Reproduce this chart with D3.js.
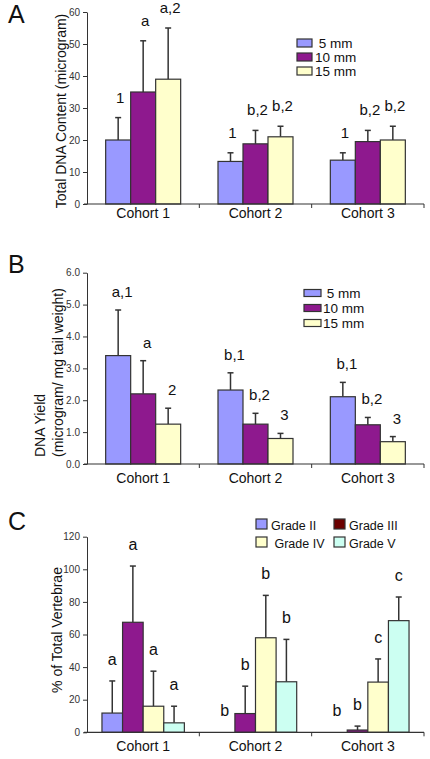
<!DOCTYPE html>
<html><head><meta charset="utf-8">
<script src="https://cdn.jsdelivr.net/npm/d3@7"></script>
<style>
html,body{margin:0;padding:0;background:#fff;}
svg{display:block;font-family:Arial,"Liberation Sans",sans-serif;}
text{white-space:pre;}
</style></head>
<body>
<svg id="chart" width="430" height="759"></svg>
<script>
// ---- data ----
const cohorts = ["Cohort 1", "Cohort 2", "Cohort 3"];
const sizeSeries = ["5 mm", "10 mm", "15 mm"];
const sizeLegend = [" 5 mm", "10 mm", "15 mm"];
const gradeSeries = ["Grade II", "Grade III", "Grade IV", "Grade V"];
const gradeLegend = ["Grade II", "Grade III", " Grade IV", "Grade V"];

// Panel A: Total DNA content (microgram), per cohort, series 5/10/15 mm
const dnaContent = [[20, 35, 39], [13.3, 18.8, 21], [13.7, 19.5, 20]];
const dnaContentErr = [[27, 51, 55], [16, 23, 24.3], [16, 23, 24.3]];
const dnaContentLabels = [["1", "a", "a,2"], ["1", "b,2", "b,2"], ["1", "b,2", "b,2"]];
const ticksA = [0, 10, 20, 30, 40, 50, 60];

// Panel B: DNA yield (microgram / mg tail weight)
const dnaYield = [[3.4, 2.2, 1.25], [2.32, 1.25, 0.8], [2.11, 1.23, 0.7]];
const dnaYieldErr = [[4.83, 3.24, 1.75], [2.86, 1.59, 0.96], [2.56, 1.46, 0.86]];
const dnaYieldLabels = [["a,1", "a", "2"], ["b,1", "b,2", "3"], ["b,1", "b,2", "3"]];
const ticksB = [0, 1, 2, 3, 4, 5, 6];

// Panel C: % of total vertebrae per grade
const vertebrae = [[11.8, 67.5, 16, 5.8], [0, 11.5, 58, 31], [0, 1.4, 30.8, 68.5]];
const vertebraeErr = [[31.5, 102, 37.5, 16], [0, 28.3, 84, 57], [0, 3.8, 45, 83]];
const vertebraeLabels = [["a", "a", "a", "a"], ["b", "b", "b", "b"], ["b", "b", "c", "c"]];
const ticksC = [0, 20, 40, 60, 80, 100, 120];

// ---- styles ----
const sizeColors = ["#9999ff", "#8e198e", "#ffffcc"];
const gradeColors = ["#9999ff", "#8e198e", "#ffffcc", "#ccfff2"];
const gradeLegendColors = ["#9999ff", "#6b0000", "#ffffcc", "#ccfff2"];
const ink = "#333";

const svg = d3.select("#chart");
const x = d3.scaleBand().domain(cohorts).range([87, 424]);

function panel(opt) {
  const g = svg.append("g");
  const y = d3.scaleLinear().domain(opt.domain).range(opt.range);
  const gw = opt.barW * opt.series.length;
  const x1 = d3.scaleBand().domain(opt.series)
    .range([(x.bandwidth() - gw) / 2, (x.bandwidth() + gw) / 2]);

  // y axis
  const ya = g.append("g").attr("transform", "translate(87,0)")
    .call(d3.axisLeft(y).tickValues(opt.ticks).tickSize(4).tickPadding(3).tickSizeOuter(0));
  ya.select(".domain").attr("stroke", ink);
  ya.selectAll(".tick line").attr("stroke", ink);
  ya.selectAll(".tick text").attr("font-size", 10).attr("fill", ink).attr("font-family", "Arial, 'Liberation Sans', sans-serif");

  // bars
  opt.values.forEach((row, ci) => {
    const gx = x(cohorts[ci]);
    row.forEach((v, si) => {
      const s = opt.series[si];
      const bx = gx + x1(s);
      const e = opt.errs[ci][si];
      if (e > v) {
        g.append("line").attr("x1", bx + opt.barW / 2).attr("x2", bx + opt.barW / 2)
          .attr("y1", y(v)).attr("y2", y(e)).attr("stroke", ink).attr("stroke-width", 1.5);
        g.append("line").attr("x1", bx + opt.barW / 2 - 3).attr("x2", bx + opt.barW / 2 + 3)
          .attr("y1", y(e)).attr("y2", y(e)).attr("stroke", ink).attr("stroke-width", 1.5);
      }
      if (v > 0) {
        g.append("rect").attr("x", bx).attr("y", y(v)).attr("width", opt.barW)
          .attr("height", y(0) - y(v)).attr("fill", opt.colors[si])
          .attr("stroke", ink).attr("stroke-width", 1.2);
      }
      g.append("text").attr("x", bx + opt.barW / 2 + opt.labelDx)
        .attr("y", y(Math.max(e, v)) - opt.labelGap)
        .attr("text-anchor", "middle").attr("font-size", opt.labelSize).attr("fill", "#111")
        .text(opt.labels[ci][si]);
    });
  });

  // x axis
  const y0 = y(0);
  g.append("line").attr("x1", 84).attr("x2", 424).attr("y1", y0).attr("y2", y0).attr("stroke", ink).attr("stroke-width", 1.2);
  cohorts.forEach(c => {
    const xe = x(c) + x.bandwidth();
    g.append("line").attr("x1", xe).attr("x2", xe).attr("y1", y0).attr("y2", y0 + 4).attr("stroke", ink);
    g.append("text").attr("x", x(c) + x.bandwidth() / 2).attr("y", y0 + opt.catDy)
      .attr("text-anchor", "middle").attr("font-size", 14).attr("fill", "#111").text(c);
  });

  // panel letter
  g.append("text").attr("x", 8).attr("y", opt.letterY).attr("font-size", 25).attr("fill", "#111").text(opt.letter);
  return { g, y };
}

// Panel A
const A = panel({
  domain: [0, 60], range: [204, 12], ticks: ticksA, series: sizeSeries, colors: sizeColors,
  values: dnaContent, errs: dnaContentErr, labels: dnaContentLabels, barW: 25,
  labelGap: 15, labelDx: 2, labelSize: 15, catDy: 14, letter: "A", letterY: 23
});
A.g.append("text").attr("transform", "translate(66,111) rotate(-90)").attr("text-anchor", "middle")
  .attr("font-size", 14).attr("fill", "#111").text("Total DNA Content (microgram)");
sizeSeries.forEach((s, i) => {
  const ly = 43 + i * 14;
  A.g.append("rect").attr("x", 297).attr("y", ly - 4).attr("width", 15).attr("height", 8)
    .attr("fill", sizeColors[i]).attr("stroke", ink).attr("stroke-width", 1.2);
  A.g.append("text").attr("x", 315).attr("y", ly + 4.5).attr("font-size", 13.5).attr("fill", "#111").text(sizeLegend[i]);
});

// Panel B
const B = panel({
  domain: [0, 6], range: [464, 272.7], ticks: ticksB, series: sizeSeries, colors: sizeColors,
  values: dnaYield, errs: dnaYieldErr, labels: dnaYieldLabels, barW: 25,
  labelGap: 13, labelDx: 4, labelSize: 15, catDy: 19, letter: "B", letterY: 273
});
const bt = B.g.append("text").attr("transform", "translate(45,457) rotate(-90)").attr("text-anchor", "start")
  .attr("font-size", 14).attr("fill", "#111");
bt.append("tspan").attr("x", 0).attr("dy", 0).text("DNA Yield");
bt.append("tspan").attr("x", 0).attr("dy", "1.3em").text("(microgram/ mg tail weight)");
sizeSeries.forEach((s, i) => {
  const ly = 293 + i * 15;
  B.g.append("rect").attr("x", 304).attr("y", ly - 3.5).attr("width", 17).attr("height", 7)
    .attr("fill", sizeColors[i]).attr("stroke", ink).attr("stroke-width", 1.2);
  B.g.append("text").attr("x", 323).attr("y", ly + 4.5).attr("font-size", 13.5).attr("fill", "#111").text(sizeLegend[i]);
});

// Panel C
const C = panel({
  domain: [0, 120], range: [732.3, 536.7], ticks: ticksC, series: gradeSeries, colors: gradeColors,
  values: vertebrae, errs: vertebraeErr, labels: vertebraeLabels, barW: 20.6,
  labelGap: 16, labelDx: 0, labelSize: 16, catDy: 19, letter: "C", letterY: 530
});
C.g.append("text").attr("transform", "translate(62,630) rotate(-90)").attr("text-anchor", "middle")
  .attr("font-size", 14).attr("fill", "#111").text("% of Total Vertebrae");
gradeSeries.forEach((s, i) => {
  const col = i % 2, row = Math.floor(i / 2);
  const lx = 256 + col * 78, ly = 519 + row * 18;
  C.g.append("rect").attr("x", lx).attr("y", ly).attr("width", 11).attr("height", 10)
    .attr("fill", gradeLegendColors[i]).attr("stroke", ink).attr("stroke-width", 1.2);
  C.g.append("text").attr("x", lx + 15).attr("y", ly + 11).attr("font-size", 12.5).attr("fill", "#111").text(gradeLegend[i]);
});
</script>
</body></html>
